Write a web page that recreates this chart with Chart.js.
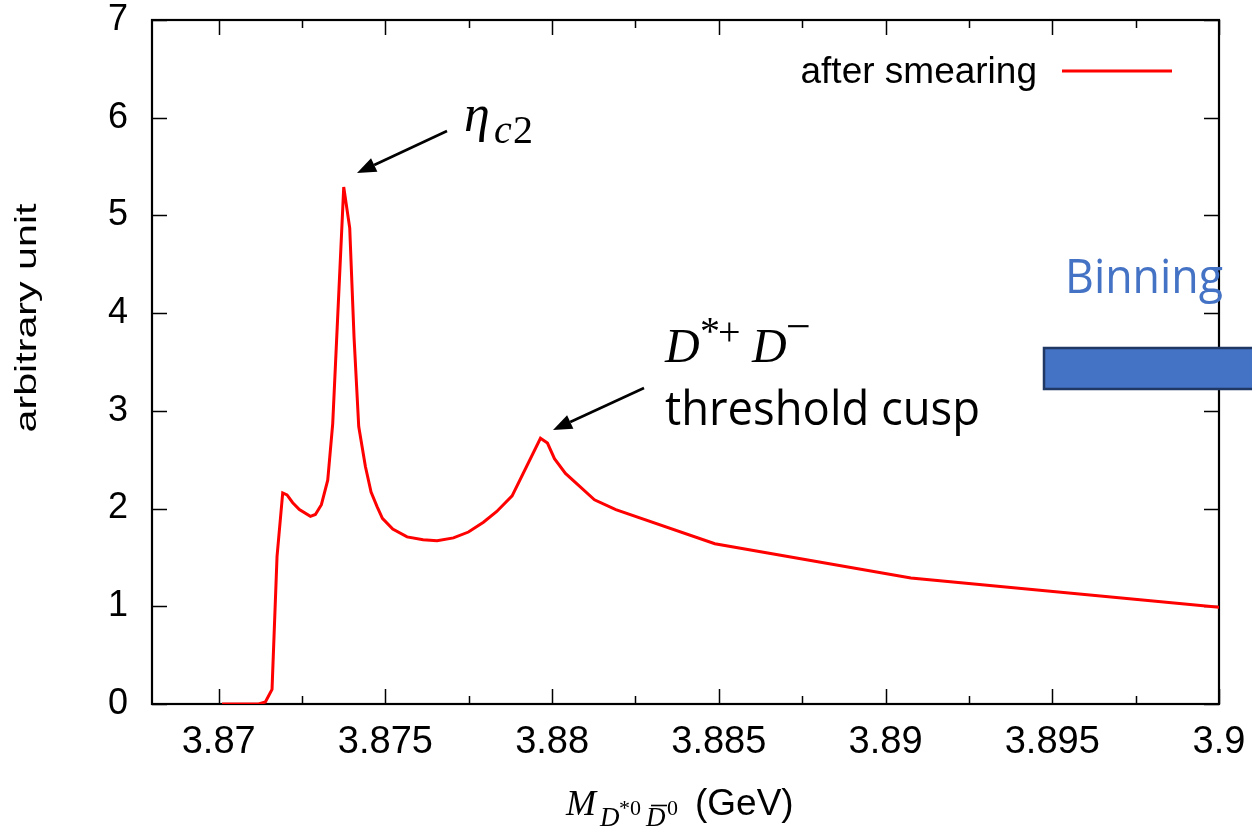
<!DOCTYPE html>
<html>
<head>
<meta charset="utf-8">
<script src="https://cdn.jsdelivr.net/npm/chart.js@4.4.1/dist/chart.umd.min.js"></script>
<style>
html, body { margin: 0; padding: 0; background: #fff; }
canvas { display: block; }
</style>
</head>
<body>
<canvas id="massChart" width="1252" height="829"></canvas>
<script>
// invariant mass (GeV) and smeared line shape (arbitrary unit)
const massGeV = [3.8701, 3.8705, 3.8709, 3.8712, 3.8714, 3.8716, 3.87175, 3.87192, 3.87205, 3.87222,
    3.87242, 3.87275, 3.8729, 3.87308, 3.87327, 3.87342, 3.87375, 3.87393, 3.87406, 3.8742,
    3.8744, 3.87457, 3.87475, 3.87491, 3.87522, 3.87565, 3.87613, 3.87655, 3.87704, 3.87749,
    3.87794, 3.87834, 3.8788, 3.87965, 3.87986, 3.88007, 3.8804, 3.88127, 3.88191, 3.88488,
    3.89076, 3.9];
const smeared = [0, 0, 0, 0, 0.02, 0.15, 1.51, 2.16, 2.14, 2.06,
    1.99, 1.92, 1.94, 2.04, 2.29, 2.87, 5.29, 4.87, 3.75, 2.84,
    2.43, 2.17, 2.02, 1.90, 1.79, 1.71, 1.68, 1.67, 1.70, 1.76,
    1.86, 1.97, 2.13, 2.72, 2.67, 2.51, 2.36, 2.09, 1.99, 1.64,
    1.29, 0.99];
const xTicks = [3.87, 3.875, 3.88, 3.885, 3.89, 3.895, 3.9];
const yTicks = [0, 1, 2, 3, 4, 5, 6, 7];
const seriesLabel = 'after smearing';

const SANS = '"Liberation Sans", Arial, sans-serif';
const SERIF = '"Liberation Serif", "Times New Roman", serif';
const CAL = '"Open Sans", "Noto Sans", sans-serif';

function arrow(ctx, x0, y0, x1, y1) {
    const ang = Math.atan2(y1 - y0, x1 - x0);
    const len = 19, half = 7.5;
    const bx = x1 - len * Math.cos(ang), by = y1 - len * Math.sin(ang);
    ctx.lineWidth = 2.6;
    ctx.beginPath();
    ctx.moveTo(x0, y0);
    ctx.lineTo(bx, by);
    ctx.stroke();
    ctx.beginPath();
    ctx.moveTo(x1, y1);
    ctx.lineTo(bx + half * Math.sin(ang), by - half * Math.cos(ang));
    ctx.lineTo(bx - half * Math.sin(ang), by + half * Math.cos(ang));
    ctx.closePath();
    ctx.fill();
}

// no extra room for edge labels, the frame is fixed
function noEdgePadding(s) {
    s.paddingTop = 0; s.paddingBottom = 0;
    s.paddingLeft = 0; s.paddingRight = 0;
}

// gnuplot style frame with inward ticks
const frame = {
    id: 'frame',
    beforeDatasetsDraw(chart) {
        const { ctx, chartArea: a, scales: { x, y } } = chart;
        ctx.save();
        ctx.strokeStyle = '#000';
        ctx.lineWidth = 1.5;
        ctx.beginPath();
        xTicks.forEach((v, i) => {
            const px = Math.round(x.getPixelForValue(v)) + 0.5;
            ctx.moveTo(px, a.bottom); ctx.lineTo(px, a.bottom - 15);
            ctx.moveTo(px, a.top); ctx.lineTo(px, a.top + 15);
            if (i < xTicks.length - 1) {
                const pm = Math.round(x.getPixelForValue((v + xTicks[i + 1]) / 2)) + 0.5;
                ctx.moveTo(pm, a.bottom); ctx.lineTo(pm, a.bottom - 8);
                ctx.moveTo(pm, a.top); ctx.lineTo(pm, a.top + 8);
            }
        });
        yTicks.forEach(v => {
            const py = Math.round(y.getPixelForValue(v)) + 0.5;
            ctx.moveTo(a.left, py); ctx.lineTo(a.left + 15, py);
            ctx.moveTo(a.right, py); ctx.lineTo(a.right - 15, py);
        });
        ctx.stroke();
        ctx.lineWidth = 2.2;
        ctx.strokeRect(a.left, a.top, a.right - a.left, a.bottom - a.top);
        ctx.restore();
    },
    afterDraw(chart) {
        const { ctx } = chart;
        ctx.save();
        ctx.fillStyle = '#000';
        ctx.strokeStyle = '#000';
        ctx.textBaseline = 'alphabetic';

        // y axis title (stretched along its length like the original)
        ctx.save();
        ctx.font = '30px ' + SANS;
        const w = ctx.measureText('arbitrary unit').width;
        ctx.translate(36, 318);
        ctx.rotate(-Math.PI / 2);
        ctx.scale(229 / w, 1);
        ctx.textAlign = 'center';
        ctx.fillText('arbitrary unit', 0, 0);
        ctx.restore();

        // x axis title: M_{D*0 Dbar0} (GeV)
        ctx.textAlign = 'left';
        ctx.font = 'italic 36px ' + SERIF;
        ctx.fillText('M', 566, 815);
        ctx.font = 'italic 27px ' + SERIF;
        ctx.fillText('D', 600, 826);
        ctx.font = '22px ' + SERIF;
        ctx.fillText('*0', 619, 815);
        ctx.font = 'italic 27px ' + SERIF;
        ctx.fillText('D', 646, 826);
        ctx.lineWidth = 1.6;
        ctx.beginPath(); ctx.moveTo(651, 805.5); ctx.lineTo(667, 805.5); ctx.stroke();
        ctx.font = '22px ' + SERIF;
        ctx.fillText('0', 667, 815);
        ctx.font = '37px ' + SANS;
        ctx.fillText('(GeV)', 695, 815);

        // legend
        ctx.font = '37px ' + SANS;
        ctx.textAlign = 'right';
        ctx.fillText(seriesLabel, 1037, 83);
        ctx.strokeStyle = '#ff0000';
        ctx.lineWidth = 3;
        ctx.beginPath(); ctx.moveTo(1062, 71); ctx.lineTo(1172, 71); ctx.stroke();
        ctx.strokeStyle = '#000';

        // eta_c2 label + arrow
        ctx.textAlign = 'left';
        ctx.font = 'italic 52px ' + SERIF;
        ctx.fillText('\u03b7', 464, 131);
        ctx.font = 'italic 40px ' + SERIF;
        ctx.fillText('c', 494, 143);
        ctx.font = '40px ' + SERIF;
        ctx.fillText('2', 513, 143);
        arrow(ctx, 447, 131, 357, 173);

        // D*+ D- threshold cusp
        ctx.font = 'italic 48px ' + SERIF;
        ctx.fillText('D', 665, 362);
        ctx.font = '40px ' + SERIF;
        ctx.fillText('*', 700, 344);
        ctx.fillText('+', 718, 345);
        ctx.font = 'italic 48px ' + SERIF;
        ctx.fillText('D', 752, 362);
        ctx.font = '44px ' + SERIF;
        ctx.fillText('\u2212', 786, 341);
        ctx.font = '48px ' + CAL;
        ctx.fillText('threshold cusp', 665, 425, 315);
        arrow(ctx, 644, 388, 553, 430);

        // Binning box
        ctx.fillStyle = '#4472c4';
        ctx.font = '48px ' + CAL;
        ctx.fillText('Binning', 1065, 293, 158);
        ctx.fillRect(1044, 348, 230, 41);
        ctx.strokeStyle = '#1f3864';
        ctx.lineWidth = 2.5;
        ctx.strokeRect(1044, 348, 230, 41);
        ctx.restore();
    }
};

const ctx = document.getElementById('massChart').getContext('2d');
new Chart(ctx, {
    type: 'line',
    data: {
        datasets: [{
            label: seriesLabel,
            data: massGeV.map((m, i) => ({ x: m, y: smeared[i] })),
            borderColor: '#ff0000',
            borderWidth: 3,
            pointRadius: 0,
            tension: 0,
            fill: false
        }]
    },
    options: {
        responsive: false,
        animation: false,
        devicePixelRatio: 1,
        layout: { padding: { left: 0, top: 20, right: 33, bottom: 0 } },
        plugins: {
            legend: { display: false },
            tooltip: { enabled: false }
        },
        scales: {
            x: {
                type: 'linear',
                min: 3.868,
                max: 3.9,
                grid: { display: false, drawTicks: false },
                border: { display: false },
                afterBuildTicks: s => { s.ticks = xTicks.map(v => ({ value: v })); },
                afterFit: s => { s.height = 125; noEdgePadding(s); },
                ticks: {
                    padding: 20,
                    color: '#000',
                    font: { family: SANS, size: 38, lineHeight: 1 },
                    maxRotation: 0,
                    callback: v => String(v)
                }
            },
            y: {
                min: 0,
                max: 7,
                grid: { display: false, drawTicks: false },
                border: { display: false },
                afterBuildTicks: s => { s.ticks = yTicks.map(v => ({ value: v })); },
                afterFit: s => { s.width = 152; noEdgePadding(s); },
                ticks: {
                    padding: 24,
                    color: '#000',
                    font: { family: SANS, size: 36, lineHeight: 1 },
                    callback: v => String(v)
                }
            }
        }
    },
    plugins: [frame]
});
</script>
</body>
</html>
